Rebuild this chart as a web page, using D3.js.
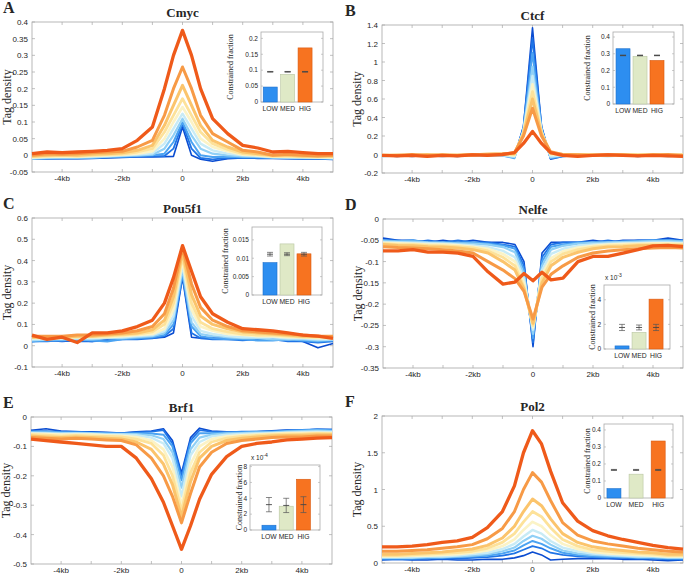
<!DOCTYPE html>
<html>
<head>
<meta charset="utf-8">
<script src="https://cdn.jsdelivr.net/npm/d3@7"></script>
<style>
body { margin:0; background:#fff; }
svg text { font-family: "Liberation Sans", Arial, sans-serif; fill:#262626; }
.serif { font-family: "Liberation Serif", "Times New Roman", serif !important; }
</style>
</head>
<body>
<svg id="fig" width="685" height="574"></svg>
<script>

// distance from peak centre, kb
var positionsKb = [-5,-4.5,-4,-3.5,-3,-2.5,-2,-1.5,-1,-0.6,-0.3,0,0.3,0.6,1,1.5,2,2.5,3,3.5,4,4.5,5];
var xTicksKb = [-4,-3,-2,-1,0,1,2,3,4];
var xTickLabels = {"-4":"-4kb","-2":"-2kb","0":"0","2":"2kb","4":"4kb"};
var groups = ["LOW","MED","HIG"];

// lines go from lowest (blue) to highest (orange) group
var cmycLines = [
  [-0.011,-0.01,-0.01,-0.01,-0.009,-0.008,-0.006,-0.005,-0.005,-0.004,-0.003,0.085,0.0,-0.012,-0.018,-0.01,-0.008,-0.009,-0.009,-0.01,-0.011,-0.011,-0.012],
  [-0.01,-0.01,-0.009,-0.009,-0.008,-0.006,-0.005,-0.004,-0.003,-0.002,0.02,0.095,0.02,-0.008,-0.012,-0.008,-0.007,-0.008,-0.008,-0.009,-0.01,-0.01,-0.011],
  [-0.01,-0.009,-0.008,-0.008,-0.007,-0.005,-0.004,-0.002,0.0,0.005,0.04,0.1,0.04,0.0,-0.005,-0.004,-0.006,-0.006,-0.007,-0.008,-0.009,-0.009,-0.01],
  [-0.01,-0.008,-0.006,-0.007,-0.006,-0.004,-0.002,0.0,0.002,0.02,0.06,0.11,0.06,0.02,0.005,0.0,-0.003,-0.004,-0.006,-0.007,-0.008,-0.008,-0.009],
  [-0.008,-0.006,-0.005,-0.005,-0.004,-0.002,0.0,0.002,0.006,0.035,0.08,0.125,0.08,0.035,0.015,0.005,0.0,-0.002,-0.005,-0.006,-0.006,-0.007,-0.008],
  [-0.006,-0.004,-0.003,-0.004,-0.002,0.0,0.002,0.005,0.012,0.05,0.1,0.145,0.1,0.05,0.025,0.012,0.002,0.0,-0.004,-0.004,-0.005,-0.006,-0.006],
  [-0.004,-0.002,0.0,-0.002,0.0,0.002,0.004,0.01,0.02,0.07,0.12,0.17,0.12,0.07,0.035,0.018,0.005,0.002,-0.002,-0.002,-0.004,-0.004,-0.004],
  [-0.002,0.0,0.002,0.0,0.003,0.005,0.008,0.015,0.03,0.09,0.15,0.21,0.15,0.09,0.045,0.025,0.01,0.005,0.0,0.0,-0.002,-0.002,-0.002],
  [0.0,0.005,0.003,0.005,0.008,0.01,0.012,0.025,0.045,0.12,0.2,0.265,0.2,0.12,0.065,0.04,0.015,0.01,0.0,0.003,0.0,-0.002,0.0],
  [0.005,0.01,0.008,0.01,0.012,0.015,0.02,0.045,0.085,0.2,0.3,0.375,0.3,0.2,0.11,0.065,0.03,0.022,0.01,0.012,0.008,0.005,0.005]
];

var ctcfLines = [
  [-0.01,-0.02,-0.01,-0.015,-0.01,-0.02,-0.01,-0.005,-0.01,-0.03,0.3,1.37,0.3,-0.05,-0.02,-0.01,-0.015,-0.01,-0.01,-0.02,-0.01,-0.015,-0.01],
  [-0.015,-0.01,-0.02,-0.01,-0.015,-0.01,-0.015,-0.01,-0.005,-0.03,0.3,1.25,0.3,-0.04,-0.015,-0.01,-0.01,-0.015,-0.01,-0.01,-0.015,-0.01,-0.015],
  [-0.01,-0.015,-0.01,-0.01,-0.02,-0.01,-0.01,-0.005,-0.01,-0.04,0.28,1.1,0.28,-0.04,-0.02,-0.01,-0.015,-0.01,-0.015,-0.01,-0.01,-0.02,-0.01],
  [-0.02,-0.01,-0.015,-0.01,-0.01,-0.015,-0.01,-0.01,-0.01,-0.03,0.26,0.95,0.26,-0.03,-0.01,-0.015,-0.01,-0.01,-0.01,-0.015,-0.01,-0.01,-0.02],
  [-0.01,-0.01,-0.01,-0.02,-0.01,-0.01,-0.01,-0.01,-0.005,-0.02,0.25,0.85,0.25,-0.02,-0.01,-0.01,-0.01,-0.02,-0.01,-0.01,-0.01,-0.015,-0.01],
  [-0.01,-0.005,-0.01,-0.01,-0.01,-0.005,-0.01,0.0,0.0,-0.01,0.24,0.76,0.24,0.0,-0.005,-0.01,-0.005,-0.01,-0.01,-0.005,-0.01,-0.01,-0.005],
  [-0.005,-0.01,-0.005,-0.01,0.0,-0.01,0.0,0.0,0.005,0.0,0.23,0.68,0.23,0.01,0.0,-0.005,0.0,-0.01,-0.005,0.0,-0.005,-0.01,0.0],
  [-0.01,-0.005,-0.01,0.0,-0.01,-0.005,-0.005,0.005,0.005,0.01,0.22,0.6,0.22,0.02,0.0,0.0,-0.005,-0.005,0.0,-0.01,0.0,-0.005,-0.01],
  [-0.01,-0.01,0.0,-0.01,-0.005,-0.01,0.0,0.0,0.005,0.02,0.2,0.5,0.2,0.03,0.0,-0.005,-0.01,0.0,-0.005,-0.01,-0.005,0.0,-0.01],
  [-0.01,-0.015,-0.01,-0.02,-0.01,-0.015,-0.005,-0.01,0.0,0.02,0.12,0.25,0.12,0.02,-0.01,-0.02,-0.01,-0.005,-0.01,-0.015,-0.01,-0.015,-0.02]
];

var pou5f1Lines = [
  [0.02,0.025,0.02,0.025,0.02,0.03,0.04,0.035,0.035,0.04,0.06,0.32,0.04,0.035,0.04,0.04,0.04,0.035,0.035,0.03,0.02,-0.01,0.01],
  [0.02,0.02,0.025,0.02,0.02,0.025,0.03,0.03,0.035,0.045,0.08,0.33,0.06,0.035,0.03,0.03,0.025,0.03,0.03,0.02,0.02,0.015,0.02],
  [0.02,0.025,0.025,0.03,0.025,0.02,0.03,0.035,0.04,0.05,0.1,0.34,0.09,0.045,0.035,0.03,0.03,0.025,0.025,0.03,0.025,0.02,0.025],
  [0.025,0.03,0.03,0.03,0.03,0.035,0.035,0.04,0.045,0.06,0.12,0.36,0.11,0.055,0.045,0.04,0.035,0.035,0.03,0.03,0.03,0.025,0.03],
  [0.03,0.03,0.035,0.035,0.035,0.04,0.04,0.045,0.05,0.07,0.14,0.38,0.14,0.07,0.055,0.045,0.04,0.04,0.04,0.035,0.035,0.03,0.03],
  [0.035,0.035,0.035,0.04,0.04,0.04,0.045,0.05,0.055,0.08,0.17,0.4,0.17,0.09,0.07,0.055,0.05,0.045,0.045,0.04,0.04,0.035,0.035],
  [0.04,0.035,0.04,0.04,0.045,0.045,0.05,0.055,0.065,0.1,0.2,0.42,0.2,0.11,0.08,0.065,0.055,0.05,0.05,0.045,0.04,0.04,0.04],
  [0.04,0.04,0.04,0.045,0.045,0.05,0.055,0.06,0.075,0.12,0.23,0.44,0.24,0.14,0.1,0.08,0.065,0.06,0.055,0.05,0.045,0.045,0.04],
  [0.045,0.045,0.045,0.05,0.05,0.055,0.06,0.07,0.09,0.15,0.27,0.46,0.29,0.18,0.12,0.09,0.07,0.065,0.06,0.055,0.05,0.045,0.045],
  [0.05,0.03,0.04,0.015,0.06,0.06,0.07,0.09,0.12,0.2,0.32,0.47,0.35,0.23,0.15,0.11,0.08,0.075,0.07,0.06,0.05,0.045,0.035]
];

var nelfeLines = [
  [-0.045,-0.05,-0.05,-0.055,-0.05,-0.055,-0.05,-0.055,-0.055,-0.06,-0.1,-0.3,-0.08,-0.055,-0.055,-0.055,-0.05,-0.055,-0.05,-0.05,-0.05,-0.045,-0.05],
  [-0.05,-0.05,-0.055,-0.05,-0.055,-0.05,-0.055,-0.055,-0.06,-0.065,-0.11,-0.29,-0.09,-0.06,-0.055,-0.055,-0.055,-0.05,-0.055,-0.05,-0.05,-0.05,-0.05],
  [-0.05,-0.052,-0.05,-0.055,-0.055,-0.055,-0.055,-0.058,-0.062,-0.07,-0.12,-0.28,-0.1,-0.065,-0.06,-0.055,-0.055,-0.055,-0.052,-0.052,-0.05,-0.05,-0.052],
  [-0.052,-0.053,-0.053,-0.055,-0.056,-0.057,-0.058,-0.06,-0.066,-0.078,-0.13,-0.27,-0.11,-0.072,-0.063,-0.058,-0.056,-0.055,-0.054,-0.053,-0.052,-0.052,-0.053],
  [-0.055,-0.055,-0.056,-0.057,-0.058,-0.06,-0.062,-0.066,-0.075,-0.09,-0.14,-0.26,-0.12,-0.082,-0.07,-0.063,-0.06,-0.058,-0.057,-0.056,-0.055,-0.055,-0.056],
  [-0.056,-0.057,-0.058,-0.06,-0.06,-0.062,-0.065,-0.07,-0.082,-0.1,-0.15,-0.255,-0.13,-0.092,-0.076,-0.067,-0.063,-0.06,-0.059,-0.058,-0.057,-0.057,-0.058],
  [-0.058,-0.06,-0.06,-0.062,-0.063,-0.065,-0.068,-0.075,-0.09,-0.11,-0.16,-0.25,-0.14,-0.1,-0.082,-0.072,-0.066,-0.063,-0.062,-0.06,-0.06,-0.06,-0.06],
  [-0.06,-0.062,-0.063,-0.065,-0.066,-0.068,-0.072,-0.08,-0.1,-0.12,-0.165,-0.245,-0.15,-0.11,-0.09,-0.078,-0.07,-0.066,-0.065,-0.063,-0.062,-0.062,-0.062],
  [-0.065,-0.067,-0.068,-0.07,-0.072,-0.075,-0.08,-0.1,-0.12,-0.14,-0.17,-0.235,-0.16,-0.13,-0.11,-0.09,-0.08,-0.075,-0.072,-0.07,-0.068,-0.067,-0.068],
  [-0.075,-0.075,-0.072,-0.078,-0.078,-0.08,-0.088,-0.124,-0.153,-0.148,-0.128,-0.145,-0.125,-0.143,-0.139,-0.1,-0.088,-0.088,-0.08,-0.072,-0.063,-0.062,-0.065]
];

var brf1Lines = [
  [-0.045,-0.04,-0.048,-0.05,-0.05,-0.052,-0.055,-0.05,-0.048,-0.04,-0.08,-0.19,-0.07,-0.038,-0.048,-0.05,-0.05,-0.05,-0.047,-0.044,-0.045,-0.042,-0.043],
  [-0.048,-0.048,-0.05,-0.05,-0.052,-0.054,-0.055,-0.052,-0.05,-0.045,-0.09,-0.2,-0.08,-0.045,-0.05,-0.052,-0.05,-0.05,-0.048,-0.046,-0.044,-0.042,-0.043],
  [-0.05,-0.05,-0.052,-0.053,-0.054,-0.055,-0.056,-0.055,-0.056,-0.06,-0.1,-0.215,-0.09,-0.055,-0.055,-0.053,-0.052,-0.05,-0.05,-0.048,-0.045,-0.043,-0.045],
  [-0.052,-0.053,-0.055,-0.055,-0.056,-0.057,-0.058,-0.058,-0.062,-0.075,-0.12,-0.24,-0.11,-0.07,-0.06,-0.056,-0.055,-0.053,-0.052,-0.05,-0.048,-0.046,-0.048],
  [-0.055,-0.056,-0.058,-0.057,-0.058,-0.06,-0.06,-0.062,-0.07,-0.09,-0.14,-0.27,-0.13,-0.085,-0.066,-0.06,-0.058,-0.056,-0.055,-0.053,-0.052,-0.05,-0.052],
  [-0.057,-0.058,-0.06,-0.06,-0.06,-0.062,-0.064,-0.068,-0.08,-0.11,-0.17,-0.3,-0.16,-0.1,-0.075,-0.066,-0.062,-0.06,-0.057,-0.055,-0.055,-0.054,-0.055],
  [-0.06,-0.062,-0.065,-0.063,-0.065,-0.066,-0.068,-0.075,-0.09,-0.13,-0.2,-0.32,-0.19,-0.12,-0.085,-0.072,-0.066,-0.063,-0.06,-0.058,-0.058,-0.056,-0.057],
  [-0.065,-0.068,-0.07,-0.068,-0.07,-0.072,-0.075,-0.085,-0.11,-0.16,-0.23,-0.34,-0.22,-0.14,-0.1,-0.08,-0.072,-0.068,-0.065,-0.063,-0.062,-0.06,-0.06],
  [-0.07,-0.072,-0.075,-0.072,-0.075,-0.078,-0.08,-0.095,-0.14,-0.2,-0.27,-0.36,-0.26,-0.17,-0.12,-0.09,-0.08,-0.075,-0.07,-0.068,-0.068,-0.065,-0.065],
  [-0.075,-0.08,-0.085,-0.09,-0.095,-0.1,-0.1,-0.14,-0.21,-0.29,-0.37,-0.45,-0.37,-0.28,-0.195,-0.135,-0.1,-0.09,-0.085,-0.078,-0.075,-0.072,-0.07]
];

var pol2Lines = [
  [0.04,0.05,0.04,0.04,0.05,0.04,0.04,0.05,0.05,0.07,0.1,0.15,0.11,0.04,0.05,0.06,0.06,0.06,0.05,0.05,0.04,0.03,0.04],
  [0.05,0.05,0.05,0.06,0.06,0.06,0.07,0.08,0.1,0.13,0.18,0.23,0.2,0.14,0.11,0.09,0.08,0.07,0.07,0.06,0.06,0.05,0.05],
  [0.06,0.06,0.06,0.07,0.07,0.08,0.09,0.1,0.13,0.17,0.24,0.3,0.26,0.2,0.14,0.11,0.09,0.08,0.08,0.07,0.07,0.06,0.06],
  [0.07,0.07,0.07,0.08,0.08,0.09,0.1,0.12,0.16,0.21,0.3,0.37,0.33,0.25,0.17,0.13,0.11,0.1,0.09,0.08,0.08,0.07,0.07],
  [0.08,0.08,0.08,0.09,0.09,0.1,0.12,0.14,0.19,0.26,0.36,0.45,0.4,0.3,0.21,0.16,0.13,0.11,0.1,0.09,0.09,0.08,0.08],
  [0.09,0.09,0.1,0.1,0.11,0.12,0.14,0.17,0.23,0.32,0.45,0.56,0.5,0.38,0.26,0.19,0.15,0.13,0.12,0.11,0.1,0.09,0.09],
  [0.1,0.1,0.11,0.12,0.13,0.14,0.16,0.2,0.28,0.4,0.56,0.7,0.63,0.48,0.32,0.23,0.18,0.16,0.14,0.13,0.12,0.1,0.1],
  [0.12,0.12,0.13,0.14,0.15,0.17,0.19,0.24,0.34,0.5,0.7,0.87,0.78,0.6,0.4,0.28,0.22,0.19,0.17,0.15,0.14,0.12,0.12],
  [0.16,0.16,0.17,0.18,0.2,0.22,0.25,0.33,0.47,0.7,1.0,1.23,1.1,0.85,0.55,0.38,0.3,0.26,0.23,0.2,0.18,0.16,0.15],
  [0.22,0.22,0.23,0.25,0.28,0.3,0.35,0.48,0.7,1.05,1.5,1.8,1.62,1.25,0.82,0.57,0.44,0.37,0.32,0.28,0.24,0.21,0.19]
];

// inset bar values (constrained fraction) and the null level with its error
var cmycBars = [0.047, 0.087, 0.17];       var cmycNull = [0.095, 0.095, 0.095];      var cmycErr = [0.001, 0.001, 0.001];
var ctcfBars = [0.33, 0.285, 0.26];        var ctcfNull = [0.29, 0.29, 0.29];         var ctcfErr = [0.002, 0.002, 0.002];
var pou5f1Bars = [0.0088, 0.0139, 0.0112]; var pou5f1Null = [0.0111, 0.0111, 0.0111]; var pou5f1Err = [0.0005, 0.0004, 0.0005];
var nelfeBars = [0.25, 1.35, 4.05];        var nelfeNull = [1.75, 1.75, 1.75];        var nelfeErr = [0.25, 0.2, 0.25];
var brf1Bars = [0.6, 3.0, 6.4];            var brf1Null = [3.2, 3.1, 3.2];            var brf1Err = [0.9, 0.9, 1.0];
var pol2Bars = [0.055, 0.14, 0.335];       var pol2Null = [0.165, 0.165, 0.165];      var pol2Err = [0.003, 0.003, 0.003];

var lineColors = ["#0a4cd1","#1f74e6","#4ba3f2","#90d0f6","#c8ebf5","#fbf3c6","#fde29a","#fbc46c","#f79a46","#ef5a1a"];
var lineWidths = [1.6,1.8,2,2.2,2.4,2.6,2.8,3,3,3.3];
var barColors = ["#2d8ef0","#dfe9c6","#f77320"];
var barStroke = ["#1c6fcc","#b9c6a2","#d95a10"];

var fmt = function(v){ return String(+v.toFixed(4)); };

var panels = [
  {letter:"A", title:"Cmyc", lines:cmycLines, box:[32,22,333,172], yDomain:[-0.05,0.4], yTicks:d3.range(-0.05,0.401,0.05),
   inset:{box:[261,32,323,102], xDomain:[0.47,4.03], labelGap:28, bars:cmycBars, nul:cmycNull, err:cmycErr, max:0.22, ticks:[0,0.05,0.1,0.15,0.2]}},
  {letter:"B", title:"Ctcf", lines:ctcfLines, box:[382,25,683,173], yDomain:[-0.2,1.4], yTicks:d3.range(-0.2,1.401,0.2),
   inset:{box:[613,32,674,104], xDomain:[0.41,4.0], labelGap:23, bars:ctcfBars, nul:ctcfNull, err:ctcfErr, max:0.43, ticks:[0,0.1,0.2,0.3,0.4]}},
  {letter:"C", title:"Pou5f1", lines:pou5f1Lines, box:[32,218,333,367], yDomain:[-0.1,0.6], yTicks:d3.range(-0.1,0.601,0.1),
   inset:{box:[252,227,322,295], xDomain:[-0.06,4.06], labelGap:24, bars:pou5f1Bars, nul:pou5f1Null, err:pou5f1Err, max:0.0185, ticks:[0,0.005,0.01,0.015]}},
  {letter:"D", title:"Nelfe", lines:nelfeLines, box:[383,219,683,368], yDomain:[-0.35,0], yTicks:d3.range(-0.35,0.001,0.05),
   inset:{box:[604,285,670,349], xDomain:[-0.06,3.82], labelGap:9, bars:nelfeBars, nul:nelfeNull, err:nelfeErr, max:5.2, ticks:[0,2,4], expo:"-3"}},
  {letter:"E", title:"Brf1", lines:brf1Lines, box:[31,417,332,564], yDomain:[-0.5,0], yTicks:d3.range(-0.5,0.001,0.1),
   inset:{box:[250,465,320,530], xDomain:[-0.1,3.96], labelGap:8, bars:brf1Bars, nul:brf1Null, err:brf1Err, max:8.2, ticks:[0,2,4,6,8], expo:"-4"}},
  {letter:"F", title:"Pol2", lines:pol2Lines, box:[382,416,683,563], yDomain:[0,2], yTicks:d3.range(0,2.001,0.5),
   inset:{box:[604,424,673,498], xDomain:[0.55,3.67], labelGap:14, bars:pol2Bars, nul:pol2Null, err:pol2Err, max:0.435, ticks:[0,0.1,0.2,0.3,0.4]}}
];

var svg = d3.select("#fig");

var drawInset = function(g, ins)
{
    var b = ins.box;
    var x = d3.scaleLinear().domain(ins.xDomain).range([b[0],b[2]]);
    var y = d3.scaleLinear().domain([0,ins.max]).range([b[3],b[1]]);
    var bw = 14;

    g.append("rect")
        .attr("x",b[0]).attr("y",b[1])
        .attr("width",b[2]-b[0]).attr("height",b[3]-b[1])
        .attr("fill","#fff").attr("stroke","#aaa").attr("stroke-width",0.8);

    g.selectAll(".bar")
        .data(ins.bars)
        .enter()
        .append("rect")
        .attr("x",function(d,i){ return x(i+1)-bw/2; })
        .attr("y",function(d){ return y(d); })
        .attr("width",bw)
        .attr("height",function(d){ return y(0)-y(d); })
        .attr("fill",function(d,i){ return barColors[i]; })
        .attr("stroke",function(d,i){ return barStroke[i]; })
        .attr("stroke-width",0.6);

    // error bars of the null level
    ins.nul.forEach(function(m,i){
        var cx = x(i+1);
        var lo = y(m-ins.err[i]), hi = y(m+ins.err[i]);
        g.append("line").attr("x1",cx).attr("x2",cx).attr("y1",lo).attr("y2",hi)
            .attr("stroke","#555").attr("stroke-width",0.7);
        [lo,hi].forEach(function(yy){
            g.append("line").attr("x1",cx-3).attr("x2",cx+3).attr("y1",yy).attr("y2",yy)
                .attr("stroke","#555").attr("stroke-width",0.7);
        });
        g.append("line").attr("x1",cx-3).attr("x2",cx+3).attr("y1",y(m)).attr("y2",y(m))
            .attr("stroke","#444").attr("stroke-width",0.9);
    });

    ins.ticks.forEach(function(t){
        g.append("line").attr("x1",b[0]).attr("x2",b[0]+2).attr("y1",y(t)).attr("y2",y(t))
            .attr("stroke","#aaa").attr("stroke-width",0.6);
        g.append("line").attr("x1",b[2]).attr("x2",b[2]-2).attr("y1",y(t)).attr("y2",y(t))
            .attr("stroke","#aaa").attr("stroke-width",0.6);
        g.append("text")
            .attr("x",b[0]-3).attr("y",y(t)+2.3)
            .attr("text-anchor","end")
            .style("font-size","6.5px")
            .text(fmt(t));
    });

    g.selectAll(".glabel")
        .data(groups)
        .enter()
        .append("text")
        .attr("x",function(d,i){ return x(i+1); })
        .attr("y",b[3]+8.5)
        .attr("text-anchor","middle")
        .style("font-size","6.8px")
        .text(function(d){ return d; });

    g.append("text")
        .attr("class","serif")
        .attr("transform","translate("+(b[0]-ins.labelGap)+","+((b[1]+b[3])/2)+") rotate(-90)")
        .attr("text-anchor","middle")
        .style("font-size","8px")
        .text("Constrained fraction");

    if(ins.expo)
    {
        var t = g.append("text")
            .attr("x",b[0]+1).attr("y",b[1]-5)
            .style("font-size","6.5px");
        t.append("tspan").text("x 10");
        t.append("tspan").attr("dy",-3).style("font-size","5px").text(ins.expo);
    }
}

var drawPanel = function(p)
{
    var b = p.box;
    var g = svg.append("g");
    var xScale = d3.scaleLinear().domain([-5,5]).range([b[0],b[2]]);
    var yScale = d3.scaleLinear().domain(p.yDomain).range([b[3],b[1]]);

    // box
    g.append("rect")
        .attr("x",b[0]).attr("y",b[1])
        .attr("width",b[2]-b[0]).attr("height",b[3]-b[1])
        .attr("fill","#fff").attr("stroke","#a6a6a6").attr("stroke-width",0.8);

    // ticks on all four sides
    xTicksKb.forEach(function(t){
        var xx = xScale(t);
        g.append("line").attr("x1",xx).attr("x2",xx).attr("y1",b[3]).attr("y2",b[3]-3)
            .attr("stroke","#a6a6a6").attr("stroke-width",0.7);
        g.append("line").attr("x1",xx).attr("x2",xx).attr("y1",b[1]).attr("y2",b[1]+3)
            .attr("stroke","#a6a6a6").attr("stroke-width",0.7);
        if(xTickLabels[String(t)] !== undefined)
        {
            g.append("text")
                .attr("x",xx).attr("y",b[3]+8.5)
                .attr("text-anchor","middle")
                .style("font-size","8px")
                .text(xTickLabels[String(t)]);
        }
    });

    p.yTicks.forEach(function(t){
        var yy = yScale(t);
        g.append("line").attr("x1",b[0]).attr("x2",b[0]+3).attr("y1",yy).attr("y2",yy)
            .attr("stroke","#a6a6a6").attr("stroke-width",0.7);
        g.append("line").attr("x1",b[2]).attr("x2",b[2]-3).attr("y1",yy).attr("y2",yy)
            .attr("stroke","#a6a6a6").attr("stroke-width",0.7);
        g.append("text")
            .attr("x",b[0]-4).attr("y",yy+3)
            .attr("text-anchor","end")
            .style("font-size","8px")
            .text(fmt(t));
    });

    //draw the profiles
    var line = d3.line()
        .x(function(d,i){ return xScale(positionsKb[i]); })
        .y(function(d){ return yScale(d); });

    g.selectAll(".profile")
        .data(p.lines)
        .enter()
        .append("path")
        .attr("d",line)
        .attr("fill","none")
        .attr("stroke",function(d,i){ return lineColors[i]; })
        .attr("stroke-width",function(d,i){ return lineWidths[i]; })
        .attr("stroke-linejoin","round");

    g.append("text")
        .attr("class","serif")
        .attr("x",(b[0]+b[2])/2).attr("y",b[1]-5)
        .attr("text-anchor","middle")
        .style("font-size","13px").style("font-weight","bold")
        .text(p.title);

    g.append("text")
        .attr("class","serif")
        .attr("x",b[0] < 100 ? 3 : 345).attr("y",b[1]-9)
        .style("font-size","16px").style("font-weight","bold")
        .text(p.letter);

    g.append("text")
        .attr("class","serif")
        .attr("transform","translate("+(b[0]-21)+","+((b[1]+b[3])/2)+") rotate(-90)")
        .attr("text-anchor","middle")
        .style("font-size","12px")
        .text("Tag density");

    drawInset(g, p.inset);
}

panels.forEach(drawPanel);

</script>
</body>
</html>
